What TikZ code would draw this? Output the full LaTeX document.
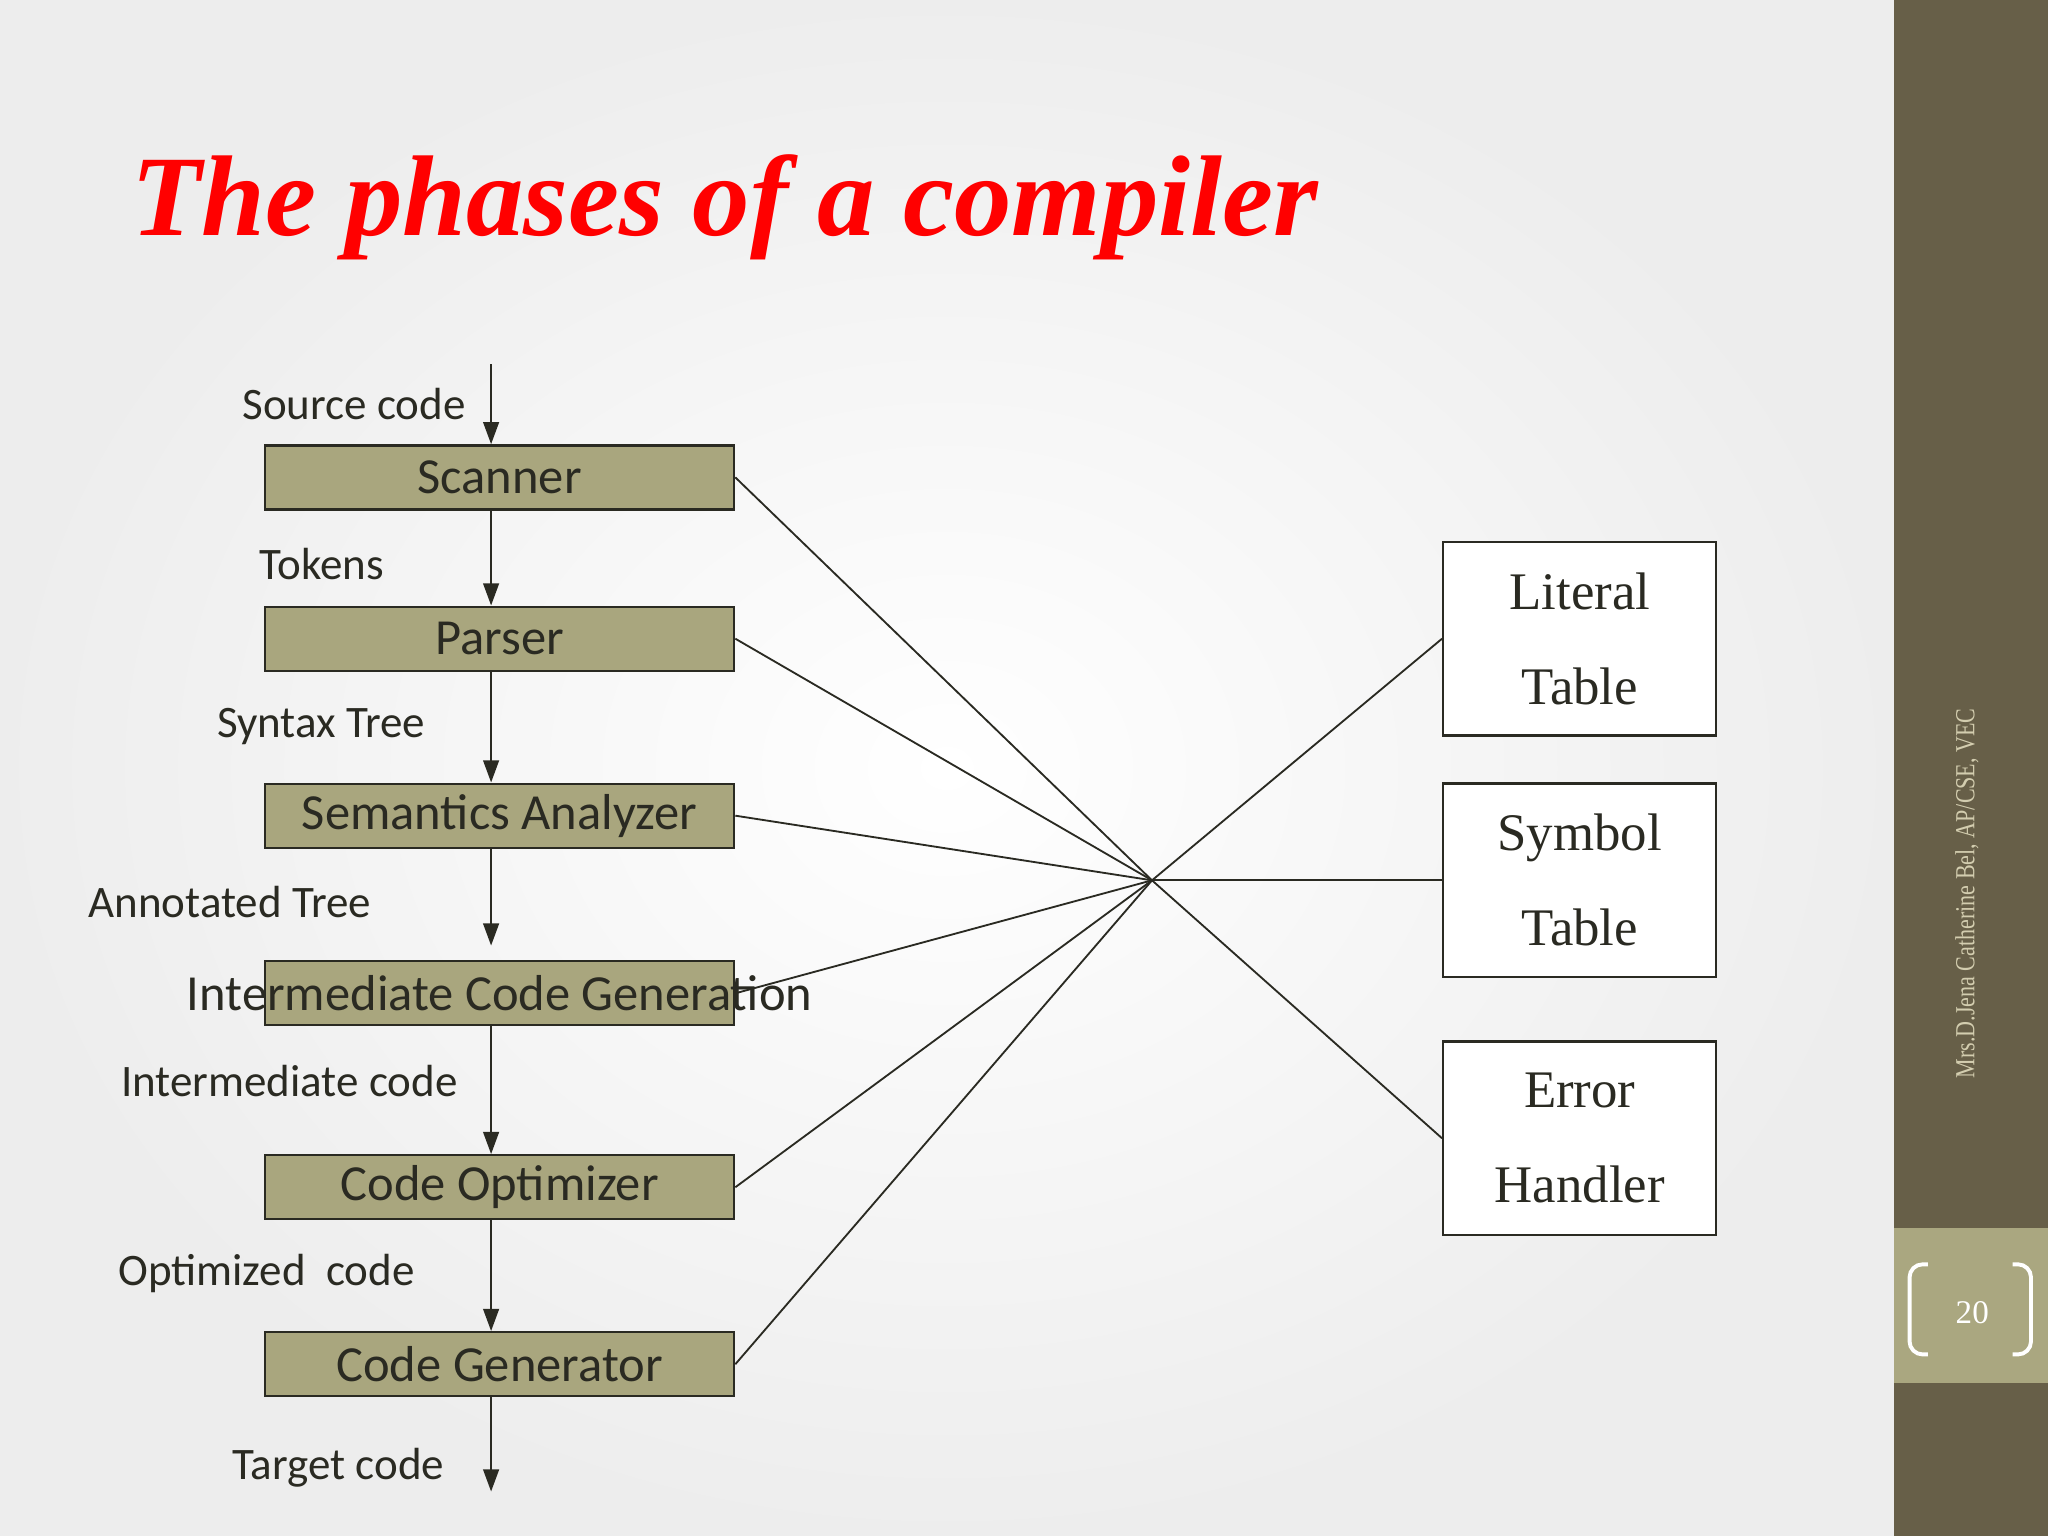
\documentclass[tikz,border=0pt]{standalone}
\usepackage{fontspec}
\setmainfont{Liberation Serif}
\newfontfamily\calib{Carlito}
\newfontfamily\slimserif[FakeStretch=0.8]{Liberation Serif}
\usetikzlibrary{arrows.meta}
\definecolor{olivebox}{HTML}{A9A67E}
\definecolor{barbrown}{HTML}{675F48}
\definecolor{barband}{HTML}{AAA780}
\definecolor{inkdark}{HTML}{2A2A22}
\definecolor{titlered}{HTML}{FF0000}
\definecolor{notetan}{HTML}{D3CDAF}

\begin{document}
\begin{tikzpicture}
        [x=0.01cm,y=-0.01cm]
        \tikzstyle{phase}=[draw=inkdark, line width=0.5pt, fill=olivebox,
        minimum width=3.59cm, minimum height=0.49cm, inner sep=0pt,
        text=inkdark, font=\calib\fontsize{11}{13}\selectfont]
        \tikzstyle{store}=[draw=inkdark, line width=0.5pt, fill=white,
        minimum width=2.09cm, minimum height=1.48cm, align=center,
        text=inkdark, font=\fontsize{11.5}{20.7}\selectfont]
        \tikzstyle{flowlabel}=[text=inkdark, inner sep=0pt,
        font=\calib\fontsize{9.8}{12}\selectfont]
        \tikzstyle{flow}=[draw=inkdark, line width=0.5pt,
        -{Triangle[length=0.17cm,width=0.12cm]}]
        \tikzstyle{link}=[draw=inkdark, line width=0.4pt]
        \useasboundingbox (0,0) rectangle (1568,1176);
        %-----background
        \shade[inner color=white, outer color=black!7] (0,0) rectangle (1450,1176);
        \fill[barbrown] (1450,0) rectangle (1568,1176);
        \fill[barband] (1450,940) rectangle (1568,1059);
        %-----title
        \node[anchor=base west, text=titlered, inner sep=0pt,
        font=\fontsize{25}{30}\selectfont\bfseries\itshape] (title) at (100,180) {The phases of a compiler};
        %-----phases
         \node[phase]  (scan) at (382.5,365.5) {Scanner};
         \node[phase]  (pars) at (382.5,489) {Parser};
         \node[phase]  (sem) at (382.5,624.5) {Semantics Analyzer};
         \node[phase]  (icg) at (382.5,760.5) {\makebox[0pt]{Intermediate Code Generation}};
         \node[phase]  (opt) at (382.5,909) {Code Optimizer};
         \node[phase]  (gen) at (382.5,1044.5) {Code Generator};
         \coordinate (src) at (376,279);
         \coordinate (ann) at (376,724);
         \coordinate (tgt) at (376,1142);
         \coordinate (hub) at (882,674);
        %-----labels
         \node[flowlabel]  (srclbl) at (271,309) {Source code};
         \node[flowlabel]  (toklbl) at (246.5,432) {Tokens};
         \node[flowlabel]  (synlbl) at (246,556) {Syntax Tree};
         \node[flowlabel]  (annlbl) at (176,691) {Annotated Tree};
         \node[flowlabel]  (imclbl) at (221.5,828) {Intermediate code};
         \node[flowlabel]  (optlbl) at (204,975) {Optimized\ \ code};
         \node[flowlabel]  (tgtlbl) at (259,1124) {Target code};
        %-----tables
         \node[store]  (lit) at (1209.5,489) {Literal\\Table};
         \node[store]  (sym) at (1209.5,674) {Symbol\\Table};
         \node[store]  (err) at (1209.5,871.5) {Error\\Handler};

         \draw[flow] (src) -- (src |- scan.north);
         \foreach \from/\to in {scan/pars,pars/sem,icg/opt,opt/gen}
         \draw[flow] (\from.south -| src) -- (\to.north -| src);
         \draw[flow] (sem.south -| src) -- (ann);
         \draw[flow] (gen.south -| src) -- (tgt);

         \foreach \from in {scan,pars,sem,icg,opt,gen}
         \draw[link] (\from.east) -- (hub);
         \foreach \to in {lit,sym,err}
         \draw[link] (hub) -- (\to.west);
        %-----side bar
         \node[rotate=90, text=notetan, font=\slimserif\fontsize{6}{7}\selectfont]  (credit) at (1506,684) {Mrs.D.Jena Catherine Bel, AP/CSE, VEC};
         \node[text=white, font=\fontsize{7.2}{8}\selectfont]  (pagenum) at (1510,1005) {20};
         \draw[white, line width=0.85pt, rounded corners=1mm] (1476,968) -- (1462,968) -- (1462,1037) -- (1476,1037);
         \draw[white, line width=0.85pt, rounded corners=1mm] (1541,968) -- (1555,968) -- (1555,1037) -- (1541,1037);
\end{tikzpicture}
\end{document}
